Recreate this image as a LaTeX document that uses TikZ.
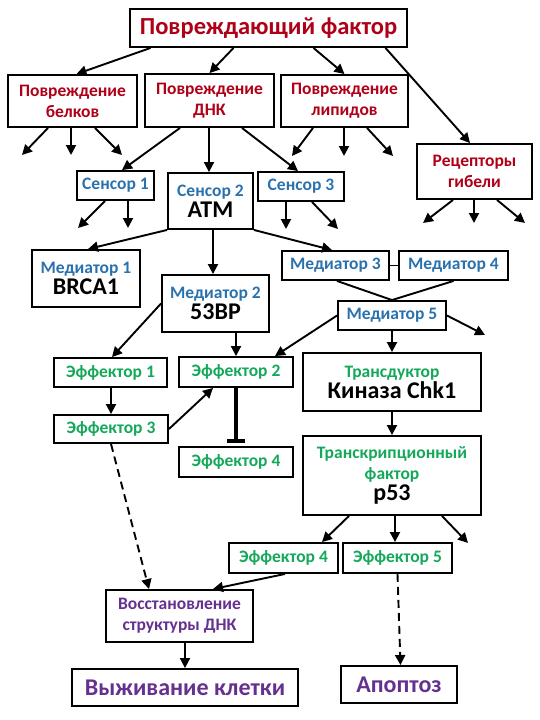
\documentclass[tikz,border=0pt]{standalone}
\usepackage{fontspec}
\setmainfont{Carlito}
\usetikzlibrary{arrows.meta}

\definecolor{krasn}{HTML}{B00018}
\definecolor{sin}{HTML}{2A72AE}
\definecolor{zel}{HTML}{14A85A}
\definecolor{fiol}{HTML}{66308F}

\newcommand\fsm{\fontsize{17.5}{21}\selectfont}
\newcommand\fbig{\fontsize{24}{27}\selectfont}

\begin{document}
\begin{tikzpicture}[x=1pt,y=-1pt,
	box/.style={draw, line width=1.9pt, inner sep=0pt, align=center, font=\bfseries\fsm},
	arr/.style={line width=1.9pt, -{Triangle[length=10pt,width=10pt]}},
	dsh/.style={arr, dash pattern=on 8pt off 5pt},
	lnk/.style={line width=1.9pt}]
	
	\fill[white] (0,0) rectangle (540,720);
	\useasboundingbox (0,0) rectangle (540,720);
	
	\node[box, minimum width=277pt, minimum height=38pt, font=\bfseries\fontsize{24.5}{27}\selectfont, text=krasn] (fac) at (268.5,28) {Повреждающий фактор};
	
	\node[box, minimum width=129pt, minimum height=52pt, text=krasn] (belki) at (72.5,101) {Повреждение\\белков};
	\node[box, minimum width=129pt, minimum height=53pt, text=krasn] (dnk) at (209.5,100.5) {Повреждение\\ДНК};
	\node[box, minimum width=127pt, minimum height=52pt, text=krasn] (lipid) at (344.5,101) {Повреждение\\липидов};
	\node[box, minimum width=115pt, minimum height=55pt, text=krasn] (recep) at (474.5,171.5) {Рецепторы\\гибели};
	
	\node[box, minimum width=77pt, minimum height=29pt, text=sin] (sens1) at (115.5,185.5) {Сенсор 1};
	\node[box, minimum width=85pt, minimum height=56pt] (sens2) at (210.5,201) {\color{sin}Сенсор 2\\\fbig ATM};
	\node[box, minimum width=86pt, minimum height=29pt, text=sin] (sens3) at (301,186.5) {Сенсор 3};
	
	\node[box, minimum width=108pt, minimum height=57pt] (med1) at (86,278.5) {\color{sin}Медиатор 1\\\fbig BRCA1};
	\node[box, minimum width=107pt, minimum height=57pt] (med2) at (215.5,303.5) {\color{sin}Медиатор 2\\\fbig 53BP};
	\node[box, minimum width=107pt, minimum height=29pt, text=sin] (med3) at (335.5,265.5) {Медиатор 3};
	\node[box, minimum width=109pt, minimum height=29pt, text=sin] (med4) at (453.5,265.5) {Медиатор 4};
	\node[box, minimum width=108pt, minimum height=29pt, text=sin] (med5) at (392,315.5) {Медиатор 5};
	
	\node[box, minimum width=113pt, minimum height=29pt, text=zel] (eff1) at (110.5,372.5) {Эффектор 1};
	\node[box, minimum width=114pt, minimum height=30pt, text=zel] (eff2) at (236,372) {Эффектор 2};
	\node[box, minimum width=114pt, minimum height=28pt, text=zel] (eff3) at (111,429) {Эффектор 3};
	\node[box, minimum width=114pt, minimum height=30pt, text=zel] (eff4) at (236,462) {Эффектор 4};
	\node[box, minimum width=178pt, minimum height=58pt] (chk) at (392,382) {\color{zel}Трансдуктор\\\fbig Киназа Chk1};
	\node[box, minimum width=178pt, minimum height=79pt] (ptf) at (392,475.5) {\color{zel}Транскрипционный\\\color{zel}фактор\\\fbig p53};
	\node[box, minimum width=109pt, minimum height=30pt, text=zel] (effd) at (283.5,558) {Эффектор 4};
	\node[box, minimum width=109pt, minimum height=30pt, text=zel] (eff5) at (397.5,558) {Эффектор 5};
	
	\node[box, minimum width=147pt, minimum height=52pt, text=fiol] (vosst) at (179.5,616) {Восстановление\\структуры ДНК};
	\node[box, minimum width=226pt, minimum height=37pt, text=fiol, font=\bfseries\fbig] (vyzh) at (185,687.5) {Выживание клетки};
	\node[box, minimum width=116pt, minimum height=37pt, text=fiol, font=\bfseries\fbig] (apop) at (399,684.5) {Апоптоз};
	
	\coordinate (b1) at (22,155);
	\coordinate (b2) at (71,155);
	\coordinate (b3) at (122,155);
	\coordinate (l1) at (292,156);
	\coordinate (l2) at (344,156);
	\coordinate (l3) at (393,156);
	\coordinate (r1) at (423,223);
	\coordinate (r2) at (474,223);
	\coordinate (r3) at (525,223);
	\coordinate (s1) at (78,228);
	\coordinate (s2) at (128,228);
	\coordinate (t1) at (286,229);
	\coordinate (t2) at (338,229);
	\coordinate (m5) at (485,335);
	\coordinate (p3) at (468,543);
	
	\draw[arr] ([xshift=-118pt]fac.south) -- ([xshift=4pt]belki.north);
	\draw[arr] ([xshift=-35pt]fac.south) -- (dnk.north);
	\draw[arr] ([xshift=45pt]fac.south) -- (lipid.north);
	\draw[arr] ([xshift=117pt]fac.south) -- ([xshift=-4.5pt]recep.north);
	
	\draw[arr] ([xshift=-24.5pt]belki.south) -- (b1);
	\draw[arr] ([xshift=-1.5pt]belki.south) -- (b2);
	\draw[arr] ([xshift=22.5pt]belki.south) -- (b3);
	\draw[arr] ([xshift=-31.5pt]lipid.south) -- (l1);
	\draw[arr] ([xshift=-0.5pt]lipid.south) -- (l2);
	\draw[arr] ([xshift=22.5pt]lipid.south) -- (l3);
	\draw[arr] ([xshift=-21.5pt]recep.south) -- (r1);
	\draw[arr] ([xshift=-0.5pt]recep.south) -- (r2);
	\draw[arr] ([xshift=22.5pt]recep.south) -- (r3);
	
	\draw[arr] ([xshift=-29.5pt]dnk.south) -- ([xshift=6.5pt]sens1.north);
	\draw[arr] ([xshift=-0.5pt]dnk.south) -- ([xshift=-1.5pt]sens2.north);
	\draw[arr] ([xshift=32.5pt]dnk.south) -- ([xshift=-3pt]sens3.north);
	
	\draw[arr] ([xshift=-10.5pt]sens1.south) -- (s1);
	\draw[arr] ([xshift=12.5pt]sens1.south) -- (s2);
	\draw[arr] ([xshift=-15pt]sens3.south) -- (t1);
	\draw[arr] ([xshift=11pt]sens3.south) -- (t2);
	
	\draw[arr] (sens2.south west) -- ([xshift=2pt]med1.north);
	\draw[arr] ([xshift=2.5pt]sens2.south) -- ([xshift=-2.5pt]med2.north);
	\draw[arr] (sens2.south east) -- ([xshift=-3.5pt]med3.north);
	
	\draw[lnk] (med3.east) -- (med4.west);
	\draw[lnk] ([xshift=1.5pt]med3.south) -- (med5.north);
	\draw[lnk] (med4.south) -- (med5.north);
	
	\draw[arr] (med5.east) -- (m5);
	\draw[arr] (med5.south) -- (chk.north);
	\draw[arr] (med5.west) -- ([xshift=39pt]eff2.north);
	\draw[arr] (med2.west) -- ([xshift=1.5pt]eff1.north);
	\draw[arr] ([xshift=20.5pt]med2.south) -- (eff2.north);
	
	\draw[arr] ([xshift=0.5pt]eff1.south) -- (eff3.north);
	\draw[arr] (eff3.east) -- ([xshift=-23pt]eff2.south);
	\draw[line width=4.5pt, -{Bar[width=18pt]}, shorten >=3pt] (eff2.south) -- (eff4.north);
	
	\draw[arr] (chk.south) -- (ptf.north);
	\draw[arr] ([xshift=-43pt]ptf.south) -- ([xshift=38.5pt]effd.north);
	\draw[arr] ([xshift=3pt]ptf.south) -- ([xshift=-2.5pt]eff5.north);
	\draw[arr] ([xshift=50pt]ptf.south) -- (p3);
	
	\draw[dsh] (eff3.south) -- ([xshift=-30.5pt]vosst.north);
	\draw[arr] ([xshift=1.5pt]effd.south) -- ([xshift=33.5pt]vosst.north);
	\draw[arr] ([xshift=5.5pt]vosst.south) -- (vyzh.north);
	\draw[dsh] (eff5.south) -- ([xshift=1.5pt]apop.north);
	
\end{tikzpicture}
\end{document}
